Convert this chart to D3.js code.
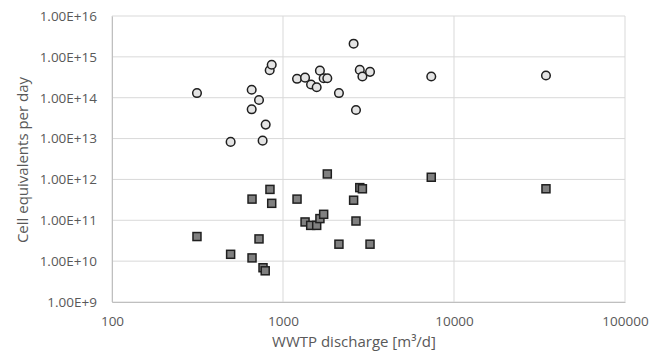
<!DOCTYPE html>
<html>
<head>
<meta charset="utf-8">
<script src="https://cdn.jsdelivr.net/npm/d3@7"></script>
<style>
  body { margin: 0; background: #fff; }
  text { font-family: "Open Sans", sans-serif; fill: #595959; }
</style>
</head>
<body>
<div id="chart-container"></div>
<script>
// WWTP discharge [m3/d], shared by both series
const discharge = [314, 494, 656, 656, 724, 792, 760, 836, 859, 1208, 1346, 1459,
  1574, 1644, 1729, 1816, 2124, 2588, 2672, 2812, 2913, 3228, 7363, 34500];
const circleValues = [1.3e14, 8.3e12, 1.57e14, 5.2e13, 8.8e13, 2.2e13, 8.9e12, 4.7e14,
  6.4e14, 2.9e14, 3.1e14, 2.1e14, 1.8e14, 4.6e14, 3.0e14, 3.0e14, 1.3e14, 2.1e15,
  5.0e13, 4.8e14, 3.3e14, 4.3e14, 3.3e14, 3.5e14];
const squareX = [314, 494, 659, 659, 724, 764, 787, 839, 859, 1208, 1346, 1452,
  1574, 1644, 1729, 1816, 2124, 2588, 2672, 2812, 2913, 3228, 7363, 34500];
const squareValues = [4.0e10, 1.47e10, 3.3e11, 1.2e10, 3.5e10, 6.9e9, 5.8e9, 5.7e11,
  2.6e11, 3.3e11, 9.1e10, 7.5e10, 7.5e10, 1.1e11, 1.4e11, 1.36e12, 2.6e10, 3.1e11,
  9.6e10, 6.3e11, 5.9e11, 2.6e10, 1.13e12, 5.9e11];
const xTicks = [100, 1000, 10000, 100000];
const yTicks = [1e9, 1e10, 1e11, 1e12, 1e13, 1e14, 1e15, 1e16];

const margin = { top: 16, right: 25, bottom: 56, left: 112 };
const width = 650 - margin.left - margin.right;
const height = 358 - margin.top - margin.bottom;

const svg = d3.select("#chart-container")
    .append("svg")
    .attr("width", 650)
    .attr("height", 358)
    .append("g")
    .attr("transform", `translate(${margin.left}, ${margin.top})`);

const xScale = d3.scaleLog().domain([100, 100000]).range([0, width]);
const yScale = d3.scaleLog().domain([1e9, 1e16]).range([height, 0]);

// gridlines
svg.append("g")
    .selectAll("line.hgrid")
    .data(yTicks)
    .join("line")
    .attr("x1", 0).attr("x2", width)
    .attr("y1", d => yScale(d)).attr("y2", d => yScale(d))
    .attr("stroke", "#d9d9d9")
    .attr("stroke-width", 1);

svg.append("g")
    .selectAll("line.vgrid")
    .data(xTicks)
    .join("line")
    .attr("x1", d => xScale(d)).attr("x2", d => xScale(d))
    .attr("y1", 0).attr("y2", height)
    .attr("stroke", "#d9d9d9")
    .attr("stroke-width", 1);

// axes
const xAxis = d3.axisBottom(xScale).tickValues(xTicks).tickFormat(d3.format("d")).tickSize(0).tickPadding(14);
const yAxis = d3.axisLeft(yScale).tickValues(yTicks)
    .tickFormat(d => "1.00E+" + Math.round(Math.log10(d))).tickSize(0).tickPadding(15);

svg.append("g")
    .attr("transform", `translate(0, ${height})`)
    .call(xAxis)
    .call(g => g.select(".domain").attr("stroke", "#bfbfbf"))
    .selectAll("text").style("font-size", "13.5px").attr("fill", "#595959");

svg.append("g")
    .call(yAxis)
    .call(g => g.select(".domain").attr("stroke", "#bfbfbf"))
    .selectAll("text").style("font-size", "13.5px").attr("fill", "#595959");

// axis titles
svg.append("text")
    .attr("x", 354 - margin.left)
    .attr("y", 347 - margin.top)
    .attr("text-anchor", "middle")
    .style("font-size", "15px")
    .text("WWTP discharge [m³/d]");

svg.append("text")
    .attr("transform", `translate(${28 - margin.left}, ${160 - margin.top}) rotate(-90)`)
    .attr("text-anchor", "middle")
    .style("font-size", "15px")
    .text("Cell equivalents per day");

// squares
const s = 8;
svg.append("g")
    .selectAll("rect")
    .data(squareValues)
    .join("rect")
    .attr("x", (d, i) => xScale(squareX[i]) - s / 2)
    .attr("y", d => yScale(d) - s / 2)
    .attr("width", s)
    .attr("height", s)
    .attr("fill", "#808080")
    .attr("stroke", "#1f1f1f")
    .attr("stroke-width", 1.5);

// circles
svg.append("g")
    .selectAll("circle")
    .data(circleValues)
    .join("circle")
    .attr("cx", (d, i) => xScale(discharge[i]))
    .attr("cy", d => yScale(d))
    .attr("r", 4.3)
    .attr("fill", "#e4e4e4")
    .attr("stroke", "#1f1f1f")
    .attr("stroke-width", 1.5);
</script>
</body>
</html>
